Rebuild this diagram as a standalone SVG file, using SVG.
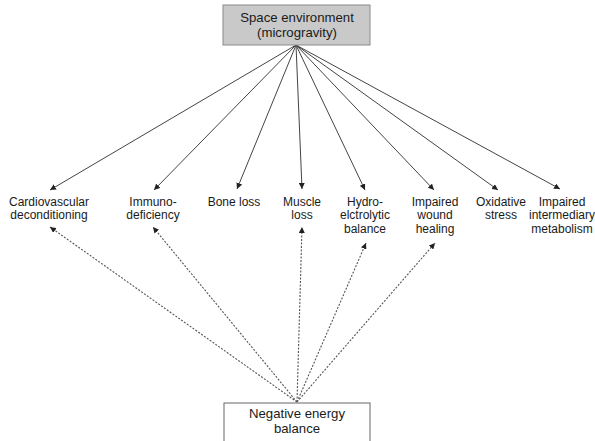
<svg xmlns="http://www.w3.org/2000/svg" width="595" height="441" viewBox="0 0 595 441">
<style>
text{font-family:"Liberation Sans",Arial,sans-serif;font-size:12px;fill:#1a1a1a;text-anchor:middle}
.big{font-size:13.2px}
.solid{stroke:#444;stroke-width:1;fill:none}
.dot{stroke:#555;stroke-width:1.1;stroke-dasharray:2 1.5;fill:none}
</style>
<defs>
<marker id="ah" markerUnits="userSpaceOnUse" markerWidth="7" markerHeight="6" refX="6" refY="3" orient="auto">
<path d="M0,0 L6,3 L0,6 z" fill="#222"/>
</marker>
</defs>
<rect width="595" height="441" fill="#fff"/>
<g id="connectors">
<line class="solid" x1="296" y1="45" x2="50" y2="190" marker-end="url(#ah)"/>
<line class="solid" x1="296" y1="45" x2="154" y2="190" marker-end="url(#ah)"/>
<line class="solid" x1="296" y1="45" x2="237" y2="189" marker-end="url(#ah)"/>
<line class="solid" x1="296" y1="45" x2="302" y2="189" marker-end="url(#ah)"/>
<line class="solid" x1="296" y1="45" x2="365" y2="190" marker-end="url(#ah)"/>
<line class="solid" x1="296" y1="45" x2="434" y2="190" marker-end="url(#ah)"/>
<line class="solid" x1="296" y1="45" x2="498" y2="190" marker-end="url(#ah)"/>
<line class="solid" x1="296" y1="45" x2="560" y2="189" marker-end="url(#ah)"/>
<line class="dot" x1="297" y1="402" x2="50" y2="227" marker-end="url(#ah)"/>
<line class="dot" x1="297" y1="402" x2="153" y2="227" marker-end="url(#ah)"/>
<line class="dot" x1="297" y1="402" x2="302" y2="227" marker-end="url(#ah)"/>
<line class="dot" x1="297" y1="402" x2="366" y2="243" marker-end="url(#ah)"/>
<line class="dot" x1="297" y1="402" x2="435" y2="243" marker-end="url(#ah)"/>
</g>
<g id="space">
<rect x="223" y="5" width="147" height="40" fill="#c9c9c9" stroke="#8a8a8a" stroke-width="1"/>
<text class="big" x="297" y="22">Space environment</text>
<text class="big" x="297" y="37">(microgravity)</text>
</g>
<g id="negative">
<rect x="224" y="403" width="146" height="42" fill="#fff" stroke="#666" stroke-width="1"/>
<text class="big" x="297" y="418">Negative energy</text>
<text class="big" x="297" y="433">balance</text>
</g>
<g id="cardio"><text x="49" y="206">Cardiovascular</text><text x="49" y="219">deconditioning</text></g>
<g id="immuno"><text x="153" y="206">Immuno-</text><text x="153" y="219">deficiency</text></g>
<g id="bone"><text x="234" y="206">Bone loss</text></g>
<g id="muscle"><text x="302" y="206">Muscle</text><text x="302" y="219">loss</text></g>
<g id="hydro"><text x="365" y="206">Hydro-</text><text x="365" y="219">elctrolytic</text><text x="365" y="233">balance</text></g>
<g id="wound"><text x="435" y="206">Impaired</text><text x="435" y="219">wound</text><text x="435" y="233">healing</text></g>
<g id="oxid"><text x="501" y="206">Oxidative</text><text x="501" y="219">stress</text></g>
<g id="metab"><text x="562" y="206">Impaired</text><text x="562" y="219">intermediary</text><text x="562" y="233">metabolism</text></g>
</svg>
